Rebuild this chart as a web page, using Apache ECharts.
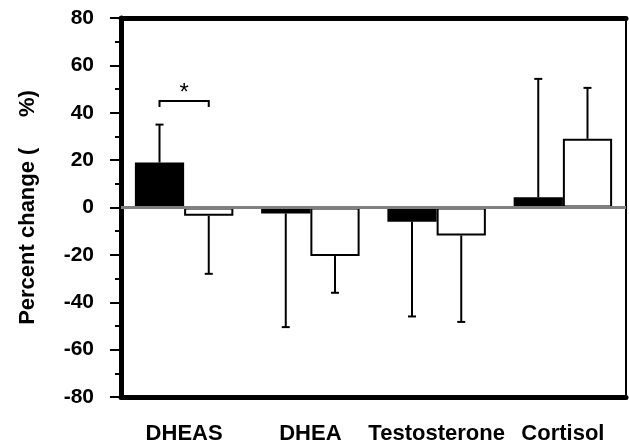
<!DOCTYPE html>
<html>
<head>
<meta charset="utf-8">
<script src="https://cdn.jsdelivr.net/npm/echarts@6/dist/echarts.min.js"></script>
<style>
	html, body {margin: 0; padding: 0; background: #fff;}
	#chart-holder {width: 629px; height: 445px;}
</style>
</head>
<body>
<div id="chart-holder"></div>
<script type="text/javascript">
// values
var categories = ['DHEAS', 'DHEA', 'Testosterone', 'Cortisol'];
var blackValues = [19, -2.5, -6, 4.3];
var blackSd = [16, 48, 40, 50];
var whiteValues = [-3.5, -20.5, -11.8, 29];
var whiteSd = [24.5, 15.5, 36.5, 21.5];
var yTicks = [-80, -60, -40, -20, 0, 20, 40, 60, 80];
// bracket over DHEAS with an asterisk
var sigCategory = 0;
var sigLevel = 45;

var barRatio = 0.39;
var font = 'Liberation Sans, Arial, sans-serif';

function errData(values, sd) {
	var out = [];
	for (var i = 0; i < values.length; i++) {
		var end = values[i] >= 0 ? values[i] + sd[i] : values[i] - sd[i];
		out.push([i, values[i], end]);
	}
	return out;
}

function errRender(side) {
	return function (params, api) {
		var c = api.value(0);
		var base = api.coord([c, api.value(1)]);
		var tip = api.coord([c, api.value(2)]);
		var band = api.size([1, 0])[0];
		var x = base[0] + side * band * barRatio / 2;
		var style = {stroke: '#000', lineWidth: 2};
		return {
			type: 'group',
			children: [
				{type: 'line', shape: {x1: x, y1: base[1], x2: x, y2: tip[1]}, style: style},
				{type: 'line', shape: {x1: x - 4, y1: tip[1], x2: x + 4, y2: tip[1]}, style: style}
			]
		};
	};
}

var option = {
	animation: false,
	backgroundColor: '#fff',
	grid: {left: 121, right: 3, top: 18, bottom: 47},
	xAxis: [{
		type: 'category',
		data: categories,
		position: 'bottom',
		axisLine: {onZero: false, lineStyle: {color: '#000', width: 5}},
		axisTick: {alignWithLabel: true, length: 4, lineStyle: {color: '#000', width: 1}},
		axisLabel: {interval: 0, hideOverlap: false, color: '#000', fontFamily: font, fontWeight: 'bold', fontSize: 22, margin: 26}
	}, {
		type: 'category',
		data: categories,
		position: 'top',
		axisLine: {onZero: false, lineStyle: {color: '#000', width: 5}},
		axisTick: {show: false},
		axisLabel: {show: false}
	}],
	yAxis: [{
		type: 'value',
		min: yTicks[0],
		max: yTicks[yTicks.length - 1],
		interval: 20,
		name: 'Percent change (     %)',
		nameLocation: 'middle',
		nameGap: 82,
		nameTextStyle: {color: '#000', fontFamily: font, fontWeight: 'bold', fontSize: 22},
		axisLine: {show: true, lineStyle: {color: '#000', width: 5}},
		axisTick: {show: true, length: 11, lineStyle: {color: '#000', width: 2}},
		minorTick: {show: true, splitNumber: 2, length: 6, lineStyle: {color: '#000', width: 2}},
		splitLine: {show: false},
		axisLabel: {color: '#000', fontFamily: font, fontWeight: 'bold', fontSize: 21, margin: 27}
	}, {
		type: 'value',
		position: 'right',
		min: yTicks[0],
		max: yTicks[yTicks.length - 1],
		axisLine: {show: true, lineStyle: {color: '#000', width: 2}},
		axisTick: {show: false},
		axisLabel: {show: false},
		splitLine: {show: false}
	}],
	series: [{
		type: 'bar',
		data: blackValues,
		barWidth: (barRatio * 100) + '%',
		barGap: '0%',
		itemStyle: {color: '#000', borderColor: '#000', borderWidth: 2},
		markLine: {
			silent: true,
			symbol: 'none',
			label: {show: false},
			lineStyle: {color: '#808080', width: 3, type: 'solid'},
			data: [{yAxis: 0}]
		}
	}, {
		type: 'bar',
		data: whiteValues,
		barWidth: (barRatio * 100) + '%',
		barGap: '0%',
		itemStyle: {color: '#fff', borderColor: '#000', borderWidth: 2}
	}, {
		type: 'custom',
		data: errData(blackValues, blackSd),
		encode: {x: 0, y: [1, 2]},
		renderItem: errRender(-1),
		z: 3
	}, {
		type: 'custom',
		data: errData(whiteValues, whiteSd),
		encode: {x: 0, y: [1, 2]},
		renderItem: errRender(1),
		z: 3
	}, {
		type: 'custom',
		data: [[sigCategory, sigLevel]],
		encode: {x: 0, y: 1},
		renderItem: function (params, api) {
			var p = api.coord([api.value(0), api.value(1)]);
			var band = api.size([1, 0])[0];
			var half = band * barRatio / 2;
			var x1 = p[0] - half, x2 = p[0] + half;
			return {
				type: 'group',
				children: [{
					type: 'polyline',
					shape: {points: [[x1, p[1] + 6], [x1, p[1]], [x2, p[1]], [x2, p[1] + 6]]},
					style: {stroke: '#000', lineWidth: 2, fill: null}
				}, {
					type: 'text',
					style: {text: '*', x: p[0], y: p[1] + 4, align: 'center', verticalAlign: 'bottom',
						fontFamily: font, fontSize: 24, fill: '#000'}
				}]
			};
		},
		z: 3
	}]
};

var myChart = echarts.init(document.getElementById('chart-holder'));
myChart.setOption(option);
</script>
</body>
</html>
